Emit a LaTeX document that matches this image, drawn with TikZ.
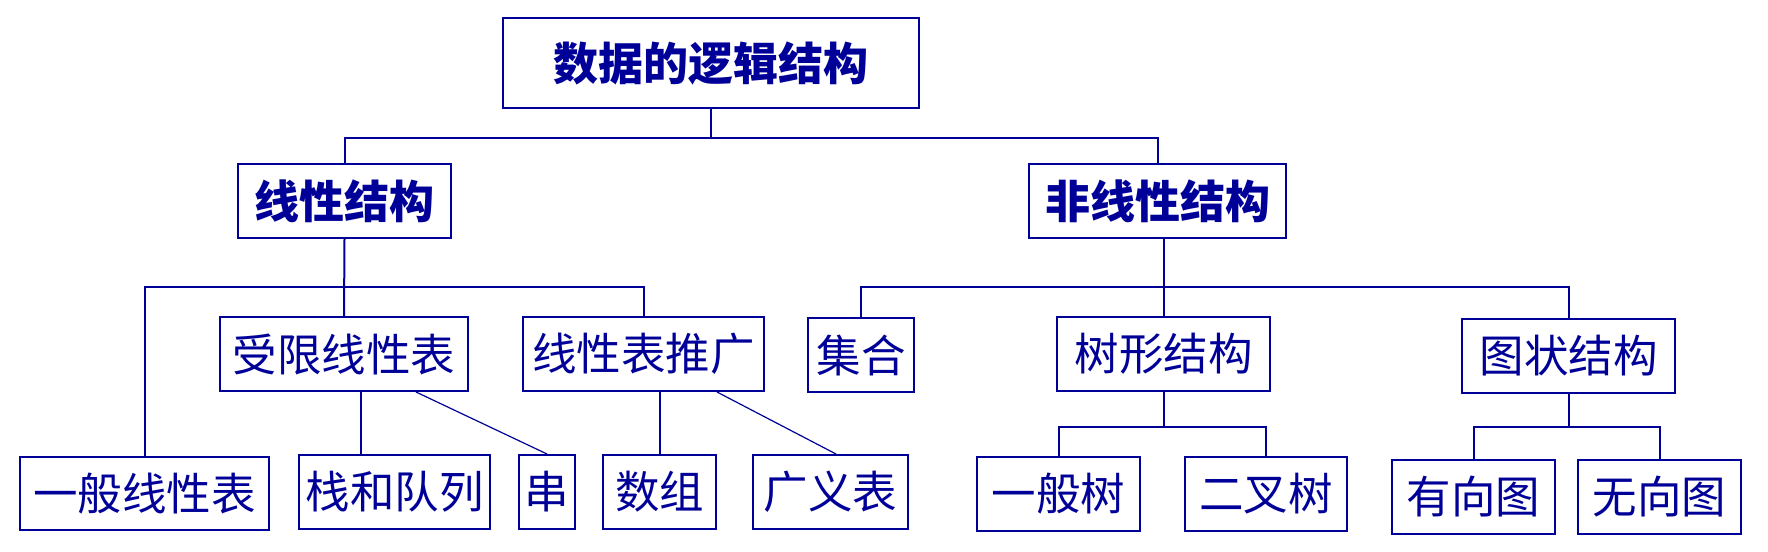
\documentclass[tikz,border=0pt]{standalone}
\usepackage{fontspec}
\usepackage{xcolor}
\usepackage{tikz}
\usetikzlibrary{calc}
\newfontfamily\cjk{Noto Sans CJK SC}
\definecolor{navy}{RGB}{0,0,153}

\begin{document}
\begin{tikzpicture}[x=1pt, y=-1pt,
    box/.style={shape=rectangle, draw=navy, line width=2pt, inner sep=0pt, minimum height=74pt, text=navy, font=\cjk\fontsize{44.5}{50}\selectfont},
    head/.style={box, font=\cjk\bfseries\fontsize{45}{50}\selectfont},
    link/.style={draw=navy, line width=2pt},
    slant/.style={draw=navy, line width=1.2pt}]
    \useasboundingbox (0,0) rectangle (1768,551);
    \node[head, minimum width=416pt, minimum height=90pt] (root) at (711,63) {数据的逻辑结构};
    \node[head, minimum width=213pt] (lin) at (344.5,201) {线性结构};
    \node[head, minimum width=257pt] (nonlin) at (1157.5,201) {非线性结构};
    \node[box, minimum width=248pt] (restr) at (344,354) {受限线性表};
    \node[box, minimum width=241pt] (gen) at (643.5,354) {线性表推广};
    \node[box, minimum width=106pt] (set) at (861,355) {集合};
    \node[box, minimum width=213pt] (tree) at (1163.5,354) {树形结构};
    \node[box, minimum width=213pt] (graph) at (1568.5,356) {图状结构};
    \node[box, minimum width=249pt, minimum height=73pt] (genlist) at (144.5,493.5) {一般线性表};
    \node[box, minimum width=191pt] (stack) at (394.5,492) {栈和队列};
    \node[box, minimum width=56pt] (str) at (547,492) {串};
    \node[box, minimum width=113pt] (arr) at (659.5,492) {数组};
    \node[box, minimum width=155pt] (glist) at (830.5,492) {广义表};
    \node[box, minimum width=163pt] (gtree) at (1058.5,494) {一般树};
    \node[box, minimum width=162pt] (btree) at (1266,494) {二叉树};
    \node[box, minimum width=163pt] (dgraph) at (1473.5,497) {有向图};
    \node[box, minimum width=163pt] (ugraph) at (1659.5,497) {无向图};

    \draw[link] (root.south) -- ++(0,29) coordinate (rj);
    \draw[link] (lin.north) |- (rj) -| (nonlin.north);
    \draw[link] (lin.south) -- (restr.north);
    \draw[link] (genlist.north) |- ($(lin.south)+(0,48)$) -| (gen.north);
    \coordinate (nj) at ($(tree.north |- nonlin.south)+(0,48)$);
    \draw[link] (tree.north) -- (tree.north |- nonlin.south);
    \draw[link] (set.north) |- (nj) -| (graph.north);
    \draw[link] ($(restr.south)+(17,0)$) coordinate (rs) -- (rs |- stack.north);
    \draw[slant] ($(restr.south)+(72,0)$) -- (str.north);
    \draw[link] (arr.north) -- (arr.north |- gen.south);
    \draw[slant] ($(gen.south)+(73.5,0)$) -- ($(glist.north)+(5.5,0)$);
    \draw[link] (tree.south) -- ++(0,35) coordinate (tj);
    \draw[link] (gtree.north) |- (tj) -| (btree.north);
    \draw[link] (graph.south) -- ++(0,33) coordinate (gj);
    \draw[link] (dgraph.north) |- (gj) -| (ugraph.north);
\end{tikzpicture}
\end{document}
